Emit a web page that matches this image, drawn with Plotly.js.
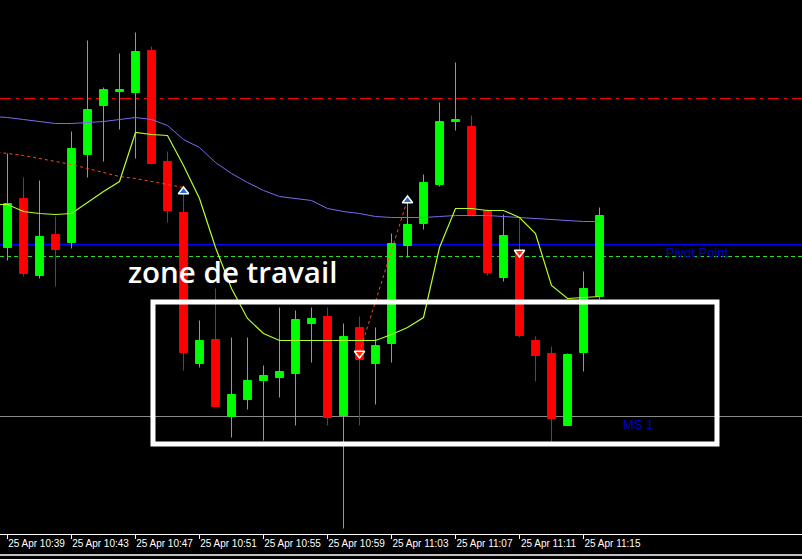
<!DOCTYPE html>
<html>
<head>
<meta charset="utf-8">
<script src="https://cdn.plot.ly/plotly-3.0.1.min.js"></script>
<style>
  html, body { margin: 0; padding: 0; background: #000; }
  #chart { width: 802px; height: 559px; }
</style>
</head>
<body>
<div id="chart"></div>
<script>
// Minute labels of each candle (25 Apr)
var minutes = ['10:39','10:40','10:41','10:42','10:43','10:44','10:45','10:46','10:47','10:48',
               '10:49','10:50','10:51','10:52','10:53','10:54','10:55','10:56','10:57','10:58',
               '10:59','11:00','11:01','11:02','11:03','11:04','11:05','11:06','11:07','11:08',
               '11:09','11:10','11:11','11:12','11:13','11:14','11:15','11:16'];
// Indicator lines start one bar earlier (partly visible at the left edge)
var lineMinutes = ['10:38'].concat(minutes);

// Axis tick labels
var tickMinutes = ['10:39','10:43','10:47','10:51','10:55','10:59','11:03','11:07','11:11','11:15'];
var tickLabels = ['25 Apr 10:39','25 Apr 10:43','25 Apr 10:47','25 Apr 10:51','25 Apr 10:55',
                  '25 Apr 10:59','25 Apr 11:03','25 Apr 11:07','25 Apr 11:11','25 Apr 11:15'];

// OHLC values (price points)
var opens  = [353,402,325,366,358,446,495,509,508,550,439,388,237,261,184,201,220,223,227,277,
              284,185,273,237,257,355,377,416,479,474,390,323,350,260,247,175,248,304];
var highs  = [447,423,420,384,469,560,513,547,568,554,449,410,280,312,263,263,235,293,290,293,
              293,277,284,273,367,403,426,498,538,485,391,386,382,264,254,247,329,393];
var lows   = [340,324,322,314,352,423,439,471,442,436,378,230,233,194,163,191,160,203,175,238,
              175,72,175,196,238,343,371,414,470,385,325,319,263,219,159,175,229,301];
var closes = [397,327,364,351,452,491,511,511,549,437,390,248,260,194,206,220,225,229,281,282,
              183,264,241,255,357,376,418,479,481,386,328,365,265,245,182,246,312,385];

// Moving averages / indicator lines (values at lineMinutes)
var maSlow = [484,483,481,479,477,477,478,479,481,483,481,475,461,453,438,427,418,410,404,402,
              400,392,389,387,384,383,383,383,384,385,385,385,384,383,382,381,380,379,379];
var maFast = [396,396,389,387,386,387,398,409,419,468,466,465,435,402,353,312,282,267,260,260,
              260,260,260,260,260,266,273,283,353,392,392,390,390,383,367,315,302,303,304];
var signalLine = [449,447,445,442,439,436,432,428,424,422,419,416,413,null,null,null,null,null,null,null,
                  null,null,null,248,300,350,401,null,null,null,null,null,null,null,null,null,null,null,null];

// Signal arrows
var buyMinutes = ['10:50','11:04'];
var buyValues  = [409,400];
var sellMinutes = ['11:01','11:11'];
var sellValues  = [247,348];

// Horizontal levels
var levelR = 502;      // red dash-dot level
var pivot = 356;       // Pivot Point
var greenLevel = 344;  // green dashed level
var ms1 = 184;         // MS 1

var day = '2023-04-25 ';
function toTime(m) { return day + m; }
var xs = minutes.map(toTime);
var lxs = lineMinutes.map(toTime);

var traces = [
  {
    type: 'scatter', mode: 'lines', x: lxs, y: maSlow,
    line: {color: '#7b68ee', width: 1, shape: 'linear'}, hoverinfo: 'skip'
  },
  {
    type: 'scatter', mode: 'lines', x: lxs, y: signalLine, connectgaps: false,
    line: {color: '#ff4a1a', width: 1, dash: '3px,3px'}, hoverinfo: 'skip'
  },
  {
    type: 'candlestick', x: xs, open: opens, high: highs, low: lows, close: closes,
    increasing: {line: {color: '#00ff00', width: 1}, fillcolor: '#00ff00'},
    decreasing: {line: {color: '#ff0000', width: 1}, fillcolor: '#ff0000'},
    whiskerwidth: 0, hoverinfo: 'skip'
  },
  {
    type: 'scatter', mode: 'lines', x: lxs, y: maFast,
    line: {color: '#b4ff2a', width: 1.2}, hoverinfo: 'skip'
  },
  {
    type: 'scatter', mode: 'markers', x: buyMinutes.map(toTime), y: buyValues,
    marker: {symbol: 'triangle-up', size: 9, color: '#1e6fd0', line: {color: '#ffffff', width: 1.5}},
    hoverinfo: 'skip'
  },
  {
    type: 'scatter', mode: 'markers', x: sellMinutes.map(toTime), y: sellValues,
    marker: {symbol: 'triangle-down', size: 9, color: '#ff2a00', line: {color: '#ffffff', width: 1.5}},
    hoverinfo: 'skip'
  }
];

var layout = {
  width: 802, height: 559,
  margin: {l: 0, r: 0, t: 0, b: 25, pad: 0},
  paper_bgcolor: '#000000', plot_bgcolor: '#000000',
  showlegend: false,
  xaxis: {
    type: 'date',
    range: [day + '10:38:31.875', day + '11:28:39.375'],
    rangeslider: {visible: false},
    tickmode: 'array', tickvals: tickMinutes.map(toTime), ticktext: tickLabels,
    tickangle: 0, automargin: false,
    ticks: 'outside', ticklen: 4, tickcolor: '#ffffff', tickwidth: 1,
    ticklabelshift: 29, ticklabelstandoff: -4,
    showline: true, linecolor: '#ffffff', linewidth: 1,
    showgrid: false, zeroline: false, fixedrange: true,
    tickfont: {family: 'Liberation Sans, Arial, sans-serif', size: 10, color: '#ffffff'}
  },
  yaxis: {
    range: [66.5, 600.5], visible: false, showgrid: false, zeroline: false, fixedrange: true
  },
  shapes: [
    {type: 'line', xref: 'paper', x0: 0, x1: 1, yref: 'y', y0: levelR, y1: levelR, layer: 'below',
     line: {color: '#ff0000', width: 1, dash: '11px,5px,3px,5px'}},
    {type: 'line', xref: 'paper', x0: 0, x1: 1, yref: 'y', y0: pivot, y1: pivot, layer: 'below',
     line: {color: '#0000ff', width: 1.5}},
    {type: 'line', xref: 'paper', x0: 0, x1: 1, yref: 'y', y0: greenLevel, y1: greenLevel, layer: 'below',
     line: {color: '#22dd22', width: 1, dash: '4px,3px'}},
    {type: 'line', xref: 'paper', x0: 0, x1: 1, yref: 'y', y0: ms1, y1: ms1, layer: 'below',
     line: {color: '#8a8a8a', width: 1}},
    {type: 'rect', xref: 'x', yref: 'y', x0: day + '10:48:05.6', x1: day + '11:23:20.6',
     y0: 156.5, y1: 298.5, layer: 'above', line: {color: '#ffffff', width: 5}, fillcolor: 'rgba(0,0,0,0)'},
    {type: 'line', xref: 'paper', x0: 0, x1: 1, yref: 'paper', y0: -0.0393, y1: -0.0393,
     line: {color: '#ffffff', width: 1.5}}
  ],
  annotations: [
    {text: 'zone de travail', xref: 'paper', yref: 'paper', x: 126 / 802, y: (534 - 271) / 534,
     xanchor: 'left', yanchor: 'middle', showarrow: false,
     font: {family: 'Open Sans, sans-serif', size: 29.5, color: '#ffffff', weight: 600}},
    {text: 'Pivot Point', xref: 'x', yref: 'y', x: day + '11:22:07.5', y: 348,
     xanchor: 'center', yanchor: 'middle', showarrow: false,
     font: {family: 'Liberation Sans, Arial, sans-serif', size: 13, color: '#0000c8'}},
    {text: 'MS 1', xref: 'x', yref: 'y', x: day + '11:18:26', y: 176,
     xanchor: 'center', yanchor: 'middle', showarrow: false,
     font: {family: 'Liberation Sans, Arial, sans-serif', size: 13, color: '#0000c8'}}
  ]
};

Plotly.newPlot('chart', traces, layout, {displayModeBar: false, staticPlot: true});
</script>
</body>
</html>
